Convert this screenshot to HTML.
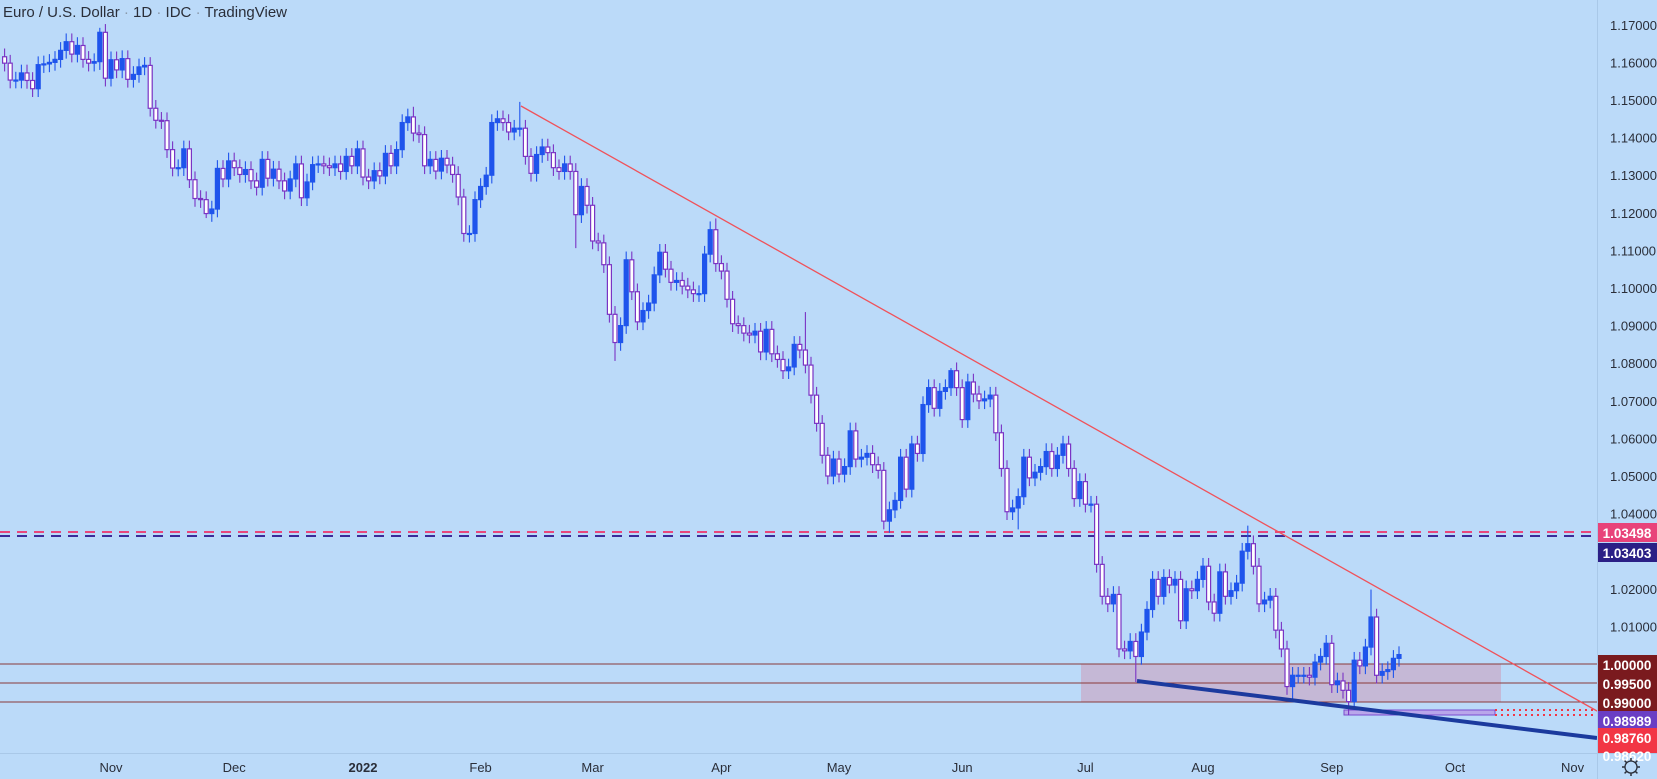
<!DOCTYPE html>
<html><head><meta charset="utf-8"><style>
html,body{margin:0;padding:0;background:#bbdaf9;overflow:hidden}
svg{display:block;font-family:"Liberation Sans",sans-serif}
</style></head><body>
<svg id="chart" width="1657" height="779" viewBox="0 0 1657 779" xmlns="http://www.w3.org/2000/svg">
<rect x="0" y="0" width="1657" height="779" fill="#bbdaf9"/>
<rect x="1081" y="664" width="420" height="38" fill="#c5b8d6"/>
<line x1="0" y1="532" x2="1597" y2="532" stroke="#e8467c" stroke-width="2" stroke-dasharray="10,7"/>
<line x1="0" y1="536" x2="1597" y2="536" stroke="#3b2b9a" stroke-width="2" stroke-dasharray="10,7"/>
<line x1="0" y1="664" x2="1597" y2="664" stroke="#8a3a3a" stroke-width="1"/>
<line x1="0" y1="683" x2="1597" y2="683" stroke="#8a3a3a" stroke-width="1"/>
<line x1="0" y1="702" x2="1597" y2="702" stroke="#8a3a3a" stroke-width="1"/>
<rect x="1344" y="710" width="151" height="5" fill="#b9a6ea" stroke="#7a4cd0" stroke-width="1"/>
<line x1="1495" y1="710" x2="1597" y2="710" stroke="#f23645" stroke-width="2" stroke-dasharray="2,4"/>
<line x1="1495" y1="715" x2="1597" y2="715" stroke="#f23645" stroke-width="2" stroke-dasharray="2,4"/>
<g id="candles"></g>
<line x1="521" y1="106" x2="1597" y2="711" stroke="#f0525a" stroke-width="1.3"/>
<line x1="1137" y1="681" x2="1597" y2="738" stroke="#1b3a9e" stroke-width="4"/>
<text x="3" y="17" font-size="15" fill="#2a2e39">Euro / U.S. Dollar <tspan fill="#8a99aa">·</tspan> 1D <tspan fill="#8a99aa">·</tspan> IDC <tspan fill="#8a99aa">·</tspan> TradingView</text>
<line x1="1597.5" y1="0" x2="1597.5" y2="779" stroke="#a9c8e8"/>
<line x1="0" y1="753.5" x2="1657" y2="753.5" stroke="#a9c8e8"/>
<g id="yticks"></g>
<g id="xticks"></g>
<g id="tags"></g>
<g transform="translate(1631,767)">
<circle r="6" fill="none" stroke="#2a2e39" stroke-width="1.3"/>
<g stroke="#2a2e39" stroke-width="1.5"><line x1="0" y1="-9" x2="0" y2="-6"/><line x1="0" y1="6" x2="0" y2="9"/><line x1="-9" y1="0" x2="-6" y2="0"/><line x1="6" y1="0" x2="9" y2="0"/><line x1="-6.4" y1="-6.4" x2="-4.3" y2="-4.3"/><line x1="6.4" y1="6.4" x2="4.3" y2="4.3"/><line x1="-6.4" y1="6.4" x2="-4.3" y2="4.3"/><line x1="6.4" y1="-6.4" x2="4.3" y2="-4.3"/></g>
</g>
</svg>
<script>
const startIndex = -19;
const closes = [
1.1598,1.1553,1.1553,1.1572,
1.1552,1.1530,1.1594,1.1596,1.1600,
1.1608,1.1632,1.1655,1.1622,1.1645,
1.1608,1.1598,1.1602,1.1680,1.1558,
1.1607,1.1580,1.1610,1.1555,1.1568,
1.1588,1.1592,1.1478,1.1446,1.1445,
1.1368,1.1319,1.1320,1.1370,1.1288,
1.1238,1.1235,1.1198,1.1210,1.1318,
1.1290,1.1338,1.1320,1.1302,1.1315,
1.1285,1.1268,1.1342,1.1292,1.1316,
1.1285,1.1258,1.1290,1.1330,1.1240,
1.1282,1.1328,1.1330,1.1325,1.1320,
1.1330,1.1310,1.1350,1.1325,1.1370,
1.1295,1.1285,1.1312,1.1298,1.1358,
1.1325,1.1368,1.1440,1.1455,1.1412,
1.1408,1.1325,1.1342,1.1311,1.1345,
1.1327,1.1302,1.1242,1.1145,1.1145,
1.1235,1.1270,1.1300,1.1440,1.1450,
1.1440,1.1415,1.1425,1.1425,1.1350,
1.1305,1.1355,1.1375,1.1360,1.1320,
1.1310,1.1330,1.1310,1.1195,1.1270,
1.1220,1.1125,1.1120,1.1062,1.0930,
1.0855,1.0900,1.1075,1.0990,1.0910,
1.0940,1.0960,1.1035,1.1095,1.1050,
1.1015,1.1020,1.1005,1.0995,1.0985,
1.0985,1.1090,1.1155,1.1065,1.1045,
1.0970,1.0905,1.0900,1.0880,1.0875,
1.0885,1.0830,1.0890,1.0825,1.0810,
1.0780,1.0790,1.0850,1.0835,1.0795,
1.0715,1.0640,1.0555,1.0500,1.0545,
1.0505,1.0525,1.0620,1.0545,1.0550,
1.0560,1.0530,1.0515,1.0380,1.0410,
1.0435,1.0550,1.0465,1.0585,1.0560,
1.0690,1.0735,1.0680,1.0725,1.0735,
1.0780,1.0735,1.0650,1.0750,1.0718,
1.0700,1.0705,1.0715,1.0615,1.0520,
1.0405,1.0415,1.0445,1.0550,1.0495,
1.0510,1.0525,1.0565,1.0520,1.0555,
1.0585,1.0520,1.0440,1.0485,1.0425,
1.0425,1.0265,1.0180,1.0160,1.0185,
1.0040,1.0035,1.0060,1.0020,1.0085,
1.0145,1.0225,1.0180,1.0230,1.0210,
1.0225,1.0115,1.0200,1.0195,1.0225,
1.0260,1.0165,1.0135,1.0245,1.0180,
1.0195,1.0215,1.0300,1.0320,1.0260,
1.0160,1.0170,1.0180,1.0090,1.0040,
0.9940,0.9970,0.9970,0.9970,0.9965,
1.0005,1.0020,1.0055,0.9945,0.9955,
0.9930,0.9900,1.0010,0.9995,1.0045,
1.0125,0.9970,0.9980,0.9985,1.0015,
1.0025
];
const firstOpen = 1.1615;
const wickSize = 0.0022;
const extremeHighIdx = [-2, 54, 73, 108, 124, 150, 203, 225];
const extremeHighs = [1.1692, 1.1482, 1.1495, 1.1185, 1.0936, 1.0787, 1.0368, 1.0198];
const extremeLowIdx = [17, 64, 83, 90, 139, 162, 183, 211, 221];
const extremeLows = [1.1186, 1.1121, 1.1106, 1.0806, 1.0349, 1.0358, 0.9952, 0.9901, 0.9864];
const priceTicks = [1.17,1.16,1.15,1.14,1.13,1.12,1.11,1.10,1.09,1.08,1.07,1.06,1.05,1.04,1.02,1.01];
const monthLabels = ["t","Nov","Dec","2022","Feb","Mar","Apr","May","Jun","Jul","Aug","Sep","Oct","Nov"];
const monthIdx = [-22,0,22,45,66,86,109,130,152,174,195,218,240,261];
const tagValues = ["1.03498","1.03403","1.00000","0.99500","0.99000","0.98989","0.98760","0.98620"];
const tagColors = ["#e8437a","#2b1f86","#7a1a1e","#7a1a1e","#7a1a1e","#6a3ec4","#f23645","#f23645"];
const tagTops = [523,543,655,674,693,711,728,746];

const NS = "http://www.w3.org/2000/svg";
function xScale(i){ return 111 + i*5.6; }
function yScale(p){ return 664 - (p-1.0)*3760; }
function mk(tag, attrs, parent){ const e=document.createElementNS(NS,tag); for(const k in attrs) e.setAttribute(k,attrs[k]); parent.appendChild(e); return e; }

const cg = document.getElementById('candles');
let prev = firstOpen;
closes.forEach((c, k) => {
  const i = startIndex + k;
  const o = prev; prev = c;
  let hi = Math.max(o,c) + wickSize, lo = Math.min(o,c) - wickSize;
  const hIdx = extremeHighIdx.indexOf(i); if (hIdx >= 0) hi = extremeHighs[hIdx];
  const lIdx = extremeLowIdx.indexOf(i); if (lIdx >= 0) lo = extremeLows[lIdx];
  const up = c >= o;
  const col = up ? "#1f54ec" : "#7a33c4";
  const x = xScale(i);
  const g = mk('g', {}, cg);
  
  
  mk('line', {x1:x, x2:x, y1:yScale(hi), y2:yScale(lo), stroke:col, 'stroke-width':1.1}, g);
  const top = yScale(Math.max(o,c)), bot = yScale(Math.min(o,c));
  mk('rect', {x:x-2, y:top, width:4, height:Math.max(1, bot-top), fill: up ? "#1f54ec" : "#ffffff", stroke:col, 'stroke-width':1.2}, g);
});

const yg = document.getElementById('yticks');
priceTicks.forEach(p => {
  const t = mk('text', {x:1610, y:yScale(p)+5, 'font-size':13, fill:'#2a2e39'}, yg);
  
  
  t.textContent = p.toFixed(5);
});

const xg = document.getElementById('xticks');
monthLabels.forEach((m, k) => {
  const t = mk('text', {x:xScale(monthIdx[k]), y:772, 'font-size':13, fill:'#2a2e39', 'text-anchor':'middle', 'font-weight': m==="2022" ? "bold" : "normal"}, xg);
  
  
  t.textContent = m;
});

const tg = document.getElementById('tags');
tagValues.forEach((v, k) => {
  const g = mk('g', {}, tg);
  
  
  const h = Math.min(19, 753 - tagTops[k]);
  mk('rect', {x:1598, y:tagTops[k], width:59, height:h, fill:tagColors[k]}, g);
  const t = mk('text', {x:1627, y:tagTops[k]+15, 'font-size':13.5, 'font-weight':'bold', fill:'#ffffff', 'text-anchor':'middle'}, g);
  t.textContent = v;
});
</script>
</body></html>
